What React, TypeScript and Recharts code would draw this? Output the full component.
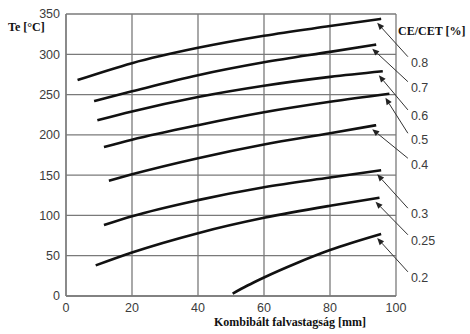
import React from 'react';
import { LineChart, Line, XAxis, YAxis, CartesianGrid, ReferenceLine, Customized } from 'recharts';

// Category labels (CE/CET %)
const ceLabels = ['0.8', '0.7', '0.6', '0.5', '0.4', '0.3', '0.25', '0.2'];

// Wall thickness (mm) points per curve
const thick08 = [3.5, 20, 40, 60, 80, 95.5];
const thick07 = [8.5, 20, 40, 60, 80, 94];
const thick06 = [9.5, 20, 40, 60, 80, 96];
const thick05 = [11.5, 20, 40, 60, 80, 98];
const thick04 = [13, 20, 40, 60, 80, 94];
const thick03 = [11.5, 20, 40, 60, 80, 95.5];
const thick025 = [9, 20, 40, 60, 80, 95];
const thick02 = [50.5, 55, 60, 70, 80, 95.5];

// Te (°C) values per curve
const te08 = [268, 289, 308, 323, 335, 344];
const te07 = [242, 254, 274, 290, 303, 312];
const te06 = [218, 229, 247, 261, 272, 279];
const te05 = [185, 194, 212, 228, 241, 251];
const te04 = [143, 151, 171, 188, 202, 212];
const te03 = [88, 99, 119, 135, 147, 156];
const te025 = [38, 54, 78, 97, 112, 122];
const te02 = [3, 13, 23, 41, 57, 77];

// Annotation label anchor (Te value where each label's arrow starts)
const labelAnchorTe = [297, 266, 231, 202, 171, 109, 76, 30];
const labelAnchorX = 103.6;

const xTicks = [0, 20, 40, 60, 80, 100];
const yTicks = [0, 50, 100, 150, 200, 250, 300, 350];

const thicknessSets = [thick08, thick07, thick06, thick05, thick04, thick03, thick025, thick02];
const teSets = [te08, te07, te06, te05, te04, te03, te025, te02];

const series = ceLabels.map((name, i) => ({
  name,
  data: thicknessSets[i].map((x, j) => ({ x, y: teSets[i][j] })),
}));

const tickStyle = { fontFamily: '"Liberation Sans", Arial, sans-serif', fontSize: 12.5, fill: '#3c3c3c' };
const gridColor = '#7a7a7a';

const makeArrowShape = (label: string) => (props: any) => {
  const { x1, y1, x2, y2 } = props;
  // tip at (x1,y1), tail at (x2,y2)
  const dx = x2 - x1;
  const dy = y2 - y1;
  const len = Math.sqrt(dx * dx + dy * dy) || 1;
  const ux = dx / len;
  const uy = dy / len;
  const hl = 7;
  const hw = 3;
  const bx = x1 + ux * hl;
  const by = y1 + uy * hl;
  const p1 = `${x1},${y1}`;
  const p2 = `${bx - uy * hw},${by + ux * hw}`;
  const p3 = `${bx + uy * hw},${by - ux * hw}`;
  return (
    <g>
      <line x1={bx} y1={by} x2={x2} y2={y2} stroke="#333" strokeWidth={1} />
      <polygon points={`${p1} ${p2} ${p3}`} fill="#222" />
      <text
        x={x2 + 3}
        y={y2 + 7}
        fontFamily='"Liberation Sans", Arial, sans-serif'
        fontSize={12.5}
        fill="#3c3c3c"
        dominantBaseline="middle"
      >
        {label}
      </text>
    </g>
  );
};

const Titles = () => (
  <g fontFamily='"Liberation Serif", "Times New Roman", serif' fontWeight="bold" fontSize={12} fill="#111">
    <text x={8} y={31}>Te [°C]</text>
    <text x={398} y={35}>CE/CET [%]</text>
    <text x={290} y={326} textAnchor="middle">Kombibált falvastagság [mm]</text>
  </g>
);

export default function App() {
  return (
    <div style={{ position: 'absolute', left: 0, top: 0, width: 470, height: 334, background: '#fff' }}>
      <LineChart width={470} height={334} margin={{ top: 14, right: 74, bottom: 18, left: 36 }}>
        <CartesianGrid stroke={gridColor} strokeWidth={1.3} />
        <XAxis
          type="number"
          dataKey="x"
          domain={[0, 100]}
          ticks={xTicks}
          tickLine={false}
          tickSize={5}
          axisLine={{ stroke: gridColor, strokeWidth: 1.3 }}
          tick={tickStyle}
          height={20}
          allowDataOverflow
        />
        <YAxis
          type="number"
          domain={[0, 350]}
          ticks={yTicks}
          tickLine={false}
          tickSize={4}
          axisLine={{ stroke: gridColor, strokeWidth: 1.3 }}
          tick={tickStyle}
          width={30}
          allowDataOverflow
        />
        {series.map((s) => (
          <Line
            key={s.name}
            data={s.data}
            dataKey="y"
            type="monotone"
            stroke="#111"
            strokeWidth={2.6}
            dot={false}
            activeDot={false}
            isAnimationActive={false}
          />
        ))}
        {series.map((s, i) => {
          const last = s.data[s.data.length - 1];
          return (
            <ReferenceLine
              key={'a' + s.name}
              segment={[
                { x: last.x - 1.2, y: last.y - 5 },
                { x: labelAnchorX, y: labelAnchorTe[i] },
              ]}
              ifOverflow="visible"
              shape={makeArrowShape(s.name)}
            />
          );
        })}
        <Customized component={Titles} />
      </LineChart>
    </div>
  );
}
